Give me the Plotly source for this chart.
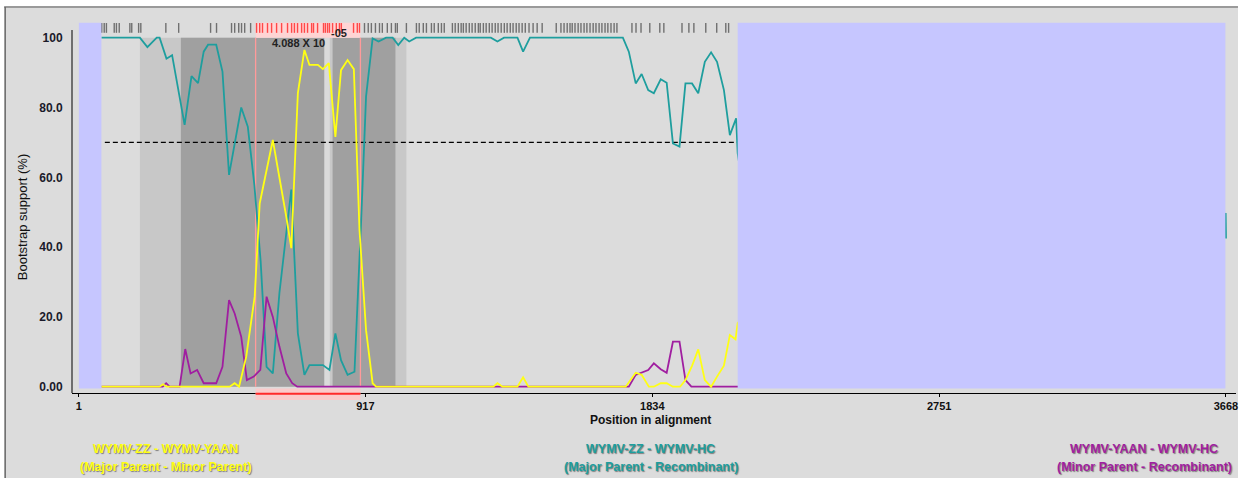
import plotly.graph_objects as go

# ---------------- data (alignment position, bootstrap support %) ----------------
teal_pos = [73, 196, 220, 250, 259, 281, 299, 339, 361, 382, 400, 414, 440, 460, 481, 520, 541,
            562, 582, 601, 621, 642, 680, 701, 722, 738, 781, 802, 821, 839, 860, 882, 903, 919,
            940, 959, 983, 1004, 1022, 1041, 1057, 1079, 1318, 1339, 1360, 1403, 1421, 1443,
            1740, 1759, 1781, 1800, 1821, 1839, 1861, 1880, 1900, 1921, 1940, 1961, 1981, 2002,
            2022, 2041, 2063, 2082, 2102, 2107, 2122, 3667, 3668]
teal_val = [100, 100, 97.3, 100, 100, 94, 95, 75, 89, 87, 96, 98, 98, 90.3, 60.7, 80, 74.5,
            57.8, 36, 5.7, 3.8, 26.8, 56.5, 15.3, 3.4, 6.2, 6.2, 4.8, 15.3, 7.6, 3.4, 4.3, 46.8, 83.1,
            99.8, 98.9, 100, 100, 97.9, 100, 98.9, 100, 100, 98.9, 100, 100, 96, 100,
            100, 96, 86.9, 89.6, 85.0, 84.1, 88.1, 87.1, 69.7, 68.8, 86.9, 86.9, 84.1, 93.1,
            95.8, 93.1, 85.0, 72.1, 76.9, 66.9, 58, 49.5, 42.5]

yellow_pos = [73, 259, 270, 282, 483, 499, 513, 536, 557, 563, 579, 621, 664, 680, 701, 722, 738,
              765, 781, 800, 821, 839, 860, 880, 898, 919, 940, 951, 1326, 1339, 1355, 1403, 1421,
              1438, 1749, 1781, 1800, 1823, 1839, 1861, 1880, 1900, 1923, 1940, 1961, 1981, 2002,
              2022, 2041, 2063, 2082, 2100, 2107, 2122]
yellow_val = [0, 0, 0.7, 0, 0, 1.0, 0, 8.6, 22, 25.8, 52.5, 70.7, 48.7, 39.7, 84.1, 96.5, 92.2,
              92.2, 91, 92.7, 71.6, 90.7, 93.6, 91, 44.9, 16.2, 1, 0, 0, 1.0, 0, 0, 2.7,
              0, 0, 4.0, 3.4, 0, 0, 1, 1, 0, 0, 1.9, 6.0, 10.7, 1.9,
              0, 2.9, 6, 14.8, 13.6, 18.2, 20]

purple_pos = [73, 269, 280, 291, 323, 341, 358, 379, 400, 440, 460, 481, 499, 520, 538, 560, 581,
              601, 621, 642, 664, 683, 699, 1759, 1781, 1800, 1821, 1839, 1861, 1880, 1900, 1921,
              1940, 1959, 2122]
purple_val = [0, 0, 1.0, 0, 0, 10.8, 3.8, 4.8, 1, 1, 5.7, 24.8, 21, 14.3, 1.9, 2.9, 4.8,
              25.8, 20, 11.5, 3.8, 1, 0, 0, 3.4, 4.0, 4.8, 6.7, 5.0, 4.0, 12.9, 12.9,
              1.9, 0, 0]

# informative sites (tick row at the top)
sites = [74, 82, 89, 114, 121, 130, 164, 170, 192, 199, 279, 320, 422, 441, 489, 499, 512, 521,
         531, 550, 569, 579, 588, 604, 617, 633, 649, 668, 681, 690, 700, 713, 722, 732, 745, 751,
         764, 783, 789, 796, 802, 812, 824, 834, 840, 879, 891, 898, 914, 926, 936, 949, 962, 971,
         987, 1000, 1013, 1019, 1048, 1080, 1089, 1102, 1112, 1128, 1137, 1150, 1160, 1169, 1195,
         1204, 1214, 1223, 1230, 1239, 1249, 1258, 1268, 1278, 1284, 1294, 1303, 1313, 1322, 1332,
         1341, 1351, 1361, 1370, 1380, 1389, 1399, 1408, 1418, 1428, 1440, 1453, 1466, 1482, 1527,
         1542, 1552, 1562, 1571, 1578, 1587, 1597, 1606, 1616, 1625, 1635, 1645, 1654, 1664, 1673,
         1683, 1692, 1702, 1712, 1721, 1769, 1782, 1798, 1826, 1858, 1871, 1929, 1951, 1967, 2005,
         2040, 2069, 2078]

region_start, region_end = 566, 901          # recombinant region
zone_light = (196, 1048)
zone_dark = [(327, 786), (812, 1013)]
zone_gap = (786, 803)
unknown_left = (1, 73)
unknown_right = (2107, 3666)
threshold = 70
p_value_main, p_value_exp = "4.088 X 10", "-05"

x_ticks = [1, 917, 1834, 2751, 3668]
y_ticks = [0, 20, 40, 60, 80, 100]
y_ticktext = ["0.00", "20.0", "40.0", "60.0", "80.0", "100"]

TEAL = "#1E9E9E"
PURPLE = "#A01EA0"
YELLOW = "#FFFF14"
FONT = "Liberation Sans, Arial, sans-serif"

fig = go.Figure()

fig.add_trace(go.Scatter(x=teal_pos, y=teal_val, mode="lines",
                         line=dict(color=TEAL, width=1.8), hoverinfo="skip"))
fig.add_trace(go.Scatter(x=purple_pos, y=purple_val, mode="lines",
                         line=dict(color=PURPLE, width=1.8), hoverinfo="skip"))
fig.add_trace(go.Scatter(x=yellow_pos, y=yellow_val, mode="lines",
                         line=dict(color=YELLOW, width=1.8), hoverinfo="skip"))

site_colors = ["#FF4848" if region_start <= s <= region_end else "#707070" for s in sites]
fig.add_trace(go.Scatter(x=sites, y=[102.8] * len(sites), mode="markers",
                         marker=dict(symbol="line-ns", size=7,
                                     line=dict(color=site_colors, width=1.4)),
                         hoverinfo="skip"))

shapes = []
# outer frame
shapes.append(dict(type="rect", xref="paper", yref="paper", x0=-0.0583, x1=1.0017,
                   y0=-0.26, y1=1.0404, fillcolor="#DCDCDC", line=dict(width=0), layer="below"))
shapes.append(dict(type="line", xref="paper", yref="paper", x0=-0.0583, x1=1.0017,
                   y0=1.0404, y1=1.0404, line=dict(color="#9A9A9A", width=2), layer="below"))
shapes.append(dict(type="line", xref="paper", yref="paper", x0=-0.0574, x1=-0.0574,
                   y0=-0.26, y1=1.0404, line=dict(color="#6A6A6A", width=1.5), layer="below"))
# zones
shapes.append(dict(type="rect", x0=zone_light[0], x1=zone_light[1], y0=0, y1=100,
                   fillcolor="#C8C8C8", line=dict(width=0), layer="below"))
for a, b in zone_dark:
    shapes.append(dict(type="rect", x0=a, x1=b, y0=0, y1=100,
                       fillcolor="#A0A0A0", line=dict(width=0), layer="below"))
shapes.append(dict(type="rect", x0=zone_gap[0], x1=zone_gap[1], y0=0, y1=100,
                   fillcolor="#DADADA", line=dict(width=0), layer="below"))
# recombinant region
shapes.append(dict(type="rect", x0=region_start, x1=region_end, y0=100, y1=104.3,
                   fillcolor="#FFD4D4", line=dict(width=0), layer="below"))
for xv in (region_start, region_end):
    shapes.append(dict(type="line", x0=xv, x1=xv, y0=0, y1=100,
                       line=dict(color="#FF9A9A", width=1.3), layer="below"))
# threshold
shapes.append(dict(type="line", x0=84, x1=unknown_right[0], y0=threshold, y1=threshold,
                   line=dict(color="black", width=1.3, dash="5px,3px"), layer="below"))
# unknown (blue) zones
for a, b in (unknown_left, unknown_right):
    shapes.append(dict(type="rect", x0=a, x1=b, y0=-0.5, y1=104.3,
                       fillcolor="#C6C6FF", line=dict(width=0), layer="above"))
# region marks below axis
shapes.append(dict(type="rect", xref="x", yref="paper", x0=region_start, x1=region_end,
                   y0=-0.0189, y1=0.012, fillcolor="rgba(255,200,200,0.85)",
                   line=dict(width=0), layer="above"))
shapes.append(dict(type="line", xref="x", yref="paper", x0=region_start, x1=region_end,
                   y0=-0.002, y1=-0.002, line=dict(color="#FF2A2A", width=2), layer="above"))
# y axis line
shapes.append(dict(type="line", xref="paper", yref="y", x0=0, x1=0, y0=-1.8, y1=102.2,
                   line=dict(color="black", width=1), layer="above"))

def ann(**kw):
    kw.setdefault("xanchor", "center")
    kw.setdefault("yanchor", "middle")
    kw.setdefault("showarrow", False)
    return dict(**kw)

annotations = [
    ann(x=703, y=98.6, xref="x", yref="y", text=p_value_main,
        font=dict(family=FONT, size=11, color="#222222", weight="bold")),
    ann(x=833, y=101.3, xref="x", yref="y", text=p_value_exp,
        font=dict(family=FONT, size=11, color="#222222", weight="bold")),
    ann(x=0.4974, y=-0.0715, xref="paper", yref="paper", text="Position in alignment",
        font=dict(family=FONT, size=12, color="#111111", weight="bold")),
    ann(x=-0.0429, y=0.474, xref="paper", yref="paper", text="Bootstrap support (%)",
        textangle=-90, font=dict(family=FONT, size=13, color="#111111")),
]
legend_items = [
    (0.0806, "WYMV-ZZ - WYMV-YAAN", "(Major Parent - Minor Parent)", YELLOW),
    (0.4974, "WYMV-ZZ - WYMV-HC", "(Major Parent - Recombinant)", TEAL),
    (0.9210, "WYMV-YAAN - WYMV-HC", "(Minor Parent - Recombinant)", PURPLE),
]
for xc, l1, l2, col in legend_items:
    for yy, t in ((-0.1509, l1), (-0.1995, l2)):
        annotations.append(ann(x=xc, y=yy, xref="paper", yref="paper", text=t,
                               font=dict(family=FONT, size=12.5, color=col, weight="bold",
                                         shadow="1px 1px 1px rgba(60,60,60,0.6)")))

fig.update_layout(
    width=1246, height=478,
    margin=dict(l=72, r=8, t=22, b=85),
    paper_bgcolor="white", plot_bgcolor="#DCDCDC",
    showlegend=False,
    shapes=shapes, annotations=annotations,
    xaxis=dict(range=[-21, 3700], tickvals=x_ticks, ticktext=[str(v) for v in x_ticks],
               showgrid=False, zeroline=False, showline=True, linecolor="black", linewidth=1,
               ticks="outside", ticklen=3, tickcolor="black",
               tickfont=dict(family=FONT, size=11, color="#111111", weight="bold")),
    yaxis=dict(range=[-1.8, 104.5], tickvals=y_ticks, ticktext=y_ticktext,
               showgrid=False, zeroline=False, showline=False,
               ticks="outside", ticklen=6, tickcolor="rgba(0,0,0,0)",
               tickfont=dict(family=FONT, size=12, color="#1A1A2A", weight="bold")),
)

fig.write_html("out.html", config={"displayModeBar": False})

# remove the default page margin so the figure sits at the window's top-left corner
with open("out.html", "r", encoding="utf-8") as f:
    html = f.read()
html = html.replace("<head>", "<head><style>html,body{margin:0;padding:0;overflow:hidden;}</style>", 1)
with open("out.html", "w", encoding="utf-8") as f:
    f.write(html)
